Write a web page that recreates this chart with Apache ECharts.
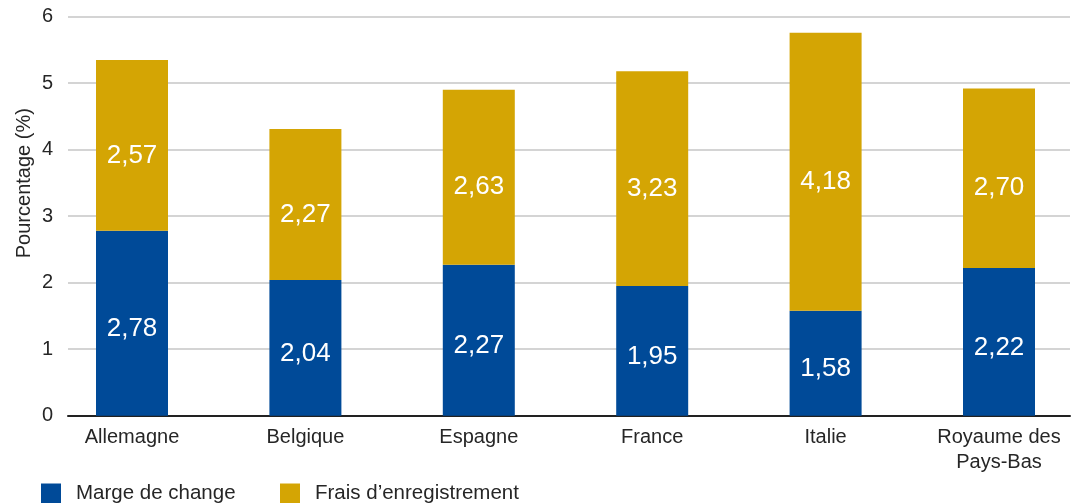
<!DOCTYPE html>
<html>
<head>
<meta charset="utf-8">
<script src="https://cdn.jsdelivr.net/npm/echarts@6/dist/echarts.min.js"></script>
<style>
  html, body { margin: 0; padding: 0; background: #ffffff; }
  #chart { width: 1077px; height: 503px; }
</style>
</head>
<body>
<div id="chart"></div>
<script>
// Pays comparés
const categories = ['Allemagne', 'Belgique', 'Espagne', 'France', 'Italie', 'Royaume des\nPays-Bas'];
// Composantes du coût (%)
const margeDeChange = [2.78, 2.04, 2.27, 1.95, 1.58, 2.22];
const fraisEnregistrement = [2.57, 2.27, 2.63, 3.23, 4.18, 2.70];
const yTicks = [0, 1, 2, 3, 4, 5, 6];

const seriesNames = ['Marge de change', 'Frais d\u2019enregistrement'];
const colors = ['#004a98', '#d4a504'];
const FONT = '"Liberation Sans", Arial, sans-serif';
const TEXT = '#262626';

const plotTop = 16.7, plotH = 399;

const fmt = p => p.value.toFixed(2).replace('.', ',');

const chart = echarts.init(document.getElementById('chart'), null, { renderer: 'canvas' });
chart.setOption({
  animation: false,
  textStyle: { fontFamily: FONT },
  grid: [
    // gridlines, value labels and baseline
    { left: 68, right: 7, top: plotTop, height: plotH, outerBoundsMode: 'none' },
    // bar bands
    { left: 45.3, width: 1040.4, top: plotTop, height: plotH, outerBoundsMode: 'none' }
  ],
  legend: [
    {
      data: [seriesNames[0]], left: 36, top: 478, itemWidth: 20, itemHeight: 20,
      icon: 'rect', textStyle: { fontSize: 20.5, color: TEXT, fontFamily: FONT, padding: [0, 0, 0, 10] }
    },
    {
      data: [seriesNames[1]], left: 275, top: 478, itemWidth: 20, itemHeight: 20,
      icon: 'rect', textStyle: { fontSize: 20.5, color: TEXT, fontFamily: FONT, padding: [0, 0, 0, 10] }
    }
  ],
  xAxis: [
    {
      gridIndex: 0, type: 'value', min: 0, max: 1,
      axisLine: { show: true, onZero: false, lineStyle: { color: '#222', width: 2 } },
      axisTick: { show: false }, axisLabel: { show: false }, splitLine: { show: false }
    },
    {
      gridIndex: 1, type: 'category', data: categories,
      axisLine: { show: false }, axisTick: { show: false },
      axisLabel: { fontSize: 20, color: TEXT, fontFamily: FONT, margin: 9, lineHeight: 25 }
    }
  ],
  yAxis: [
    {
      gridIndex: 0, type: 'value', min: yTicks[0], max: yTicks[yTicks.length - 1], interval: 1,
      name: 'Pourcentage (%)', nameLocation: 'middle', nameGap: 34, nameRotate: 90,
      nameMoveOverlap: false,
      nameTextStyle: { fontSize: 20, color: TEXT, fontFamily: FONT, padding: [0, 0, 0, 66] },
      axisLine: { show: false }, axisTick: { show: false },
      axisLabel: { fontSize: 20, color: TEXT, fontFamily: FONT, margin: 15 },
      splitLine: { lineStyle: { color: '#c6c6c6', width: 1.5 } }
    },
    {
      gridIndex: 1, type: 'value', min: 0, max: 6, interval: 1,
      show: false, splitLine: { show: false }
    }
  ],
  series: [
    {
      name: seriesNames[0], type: 'bar', stack: 'total', xAxisIndex: 1, yAxisIndex: 1,
      data: margeDeChange, barWidth: 72, itemStyle: { color: colors[0] },
      label: { show: true, position: 'inside', offset: [0, 6], formatter: fmt, color: '#ffffff', fontSize: 26, fontFamily: FONT }
    },
    {
      name: seriesNames[1], type: 'bar', stack: 'total', xAxisIndex: 1, yAxisIndex: 1,
      data: fraisEnregistrement, barWidth: 72, itemStyle: { color: colors[1] },
      label: { show: true, position: 'inside', offset: [0, 10], formatter: fmt, color: '#ffffff', fontSize: 26, fontFamily: FONT }
    }
  ]
});
</script>
</body>
</html>
